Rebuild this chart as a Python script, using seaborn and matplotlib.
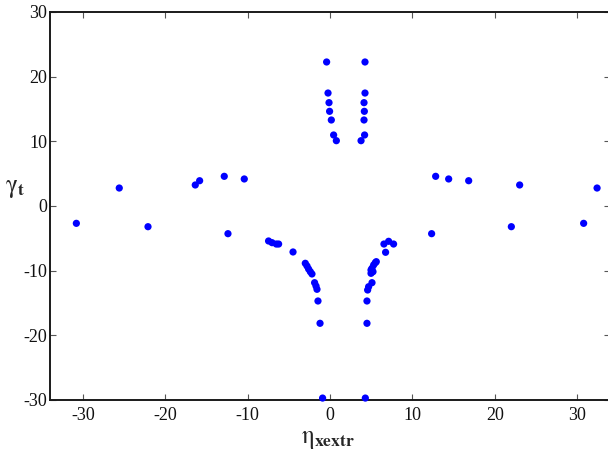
import matplotlib
matplotlib.use("Agg")
import matplotlib.pyplot as plt
import numpy as np
import pandas as pd
import seaborn as sns

# Extrema positions (eta_xextr) and the corresponding gamma_t values, grouped by branch
upper_left_eta = [-0.41, -0.24, -0.12, -0.05, 0.16, 0.44, 0.77]
upper_left_gamma = [22.27, 17.47, 15.98, 14.64, 13.30, 10.98, 10.10]

upper_right_eta = [4.25, 4.25, 4.13, 4.17, 4.13, 4.20, 3.77]
upper_right_gamma = [22.27, 17.47, 15.98, 14.64, 13.30, 10.98, 10.10]

side_left_eta = [-30.8, -25.59, -22.1, -16.36, -15.83, -12.84, -10.41, -12.39]
side_left_gamma = [-2.68, 2.78, -3.20, 3.25, 3.91, 4.59, 4.18, -4.28]

side_right_eta = [12.83, 14.41, 16.84, 23.03, 32.43, 30.8, 22.02, 12.34]
side_right_gamma = [4.59, 4.18, 3.91, 3.25, 2.78, -2.68, -3.20, -4.28]

lower_left_eta = [-7.46, -7.04, -6.52, -6.24, -4.49, -3.00, -2.79, -2.60, -2.39,
                  -2.19, -1.87, -1.70, -1.58, -1.46, -1.21]
lower_left_gamma = [-5.41, -5.67, -5.88, -5.88, -7.11, -8.86, -9.28, -9.74, -10.16,
                    -10.51, -11.86, -12.37, -12.88, -14.69, -18.14]

lower_right_eta = [6.55, 7.12, 7.72, 6.75, 5.50, 5.62, 5.30, 5.10, 4.98, 5.22, 4.98,
                   5.10, 4.69, 4.57, 4.49, 4.49]
lower_right_gamma = [-5.88, -5.46, -5.88, -7.16, -8.77, -8.61, -9.12, -9.63, -9.90,
                     -10.16, -10.41, -11.86, -12.48, -12.99, -14.69, -18.14]

bottom_eta = [-0.90, 4.29]
bottom_gamma = [-29.7, -29.7]

x_ticks = [-30, -20, -10, 0, 10, 20, 30]
y_ticks = [-30, -20, -10, 0, 10, 20, 30]

eta = (upper_left_eta + upper_right_eta + side_left_eta + side_right_eta
       + lower_left_eta + lower_right_eta + bottom_eta)
gamma = (upper_left_gamma + upper_right_gamma + side_left_gamma + side_right_gamma
         + lower_left_gamma + lower_right_gamma + bottom_gamma)
df = pd.DataFrame({"eta": eta, "gamma": gamma})

sns.set_style("ticks")
plt.rcParams["font.family"] = ["Liberation Serif", "DejaVu Serif"]
plt.rcParams["mathtext.fontset"] = "stix"
plt.rcParams["axes.unicode_minus"] = False

fig = plt.figure(figsize=(6.08, 4.63), dpi=100)
ax = fig.add_axes([50 / 608, 63 / 463, 560 / 608, 388 / 463])

sns.scatterplot(data=df, x="eta", y="gamma", ax=ax, color="#0000ff",
                s=27, linewidth=0, edgecolor="none", clip_on=False, zorder=3)

ax.set_xlim(-34, 34)
ax.set_ylim(-30, 30)
ax.set_xticks(x_ticks)
ax.set_yticks(y_ticks)
ax.set_xticklabels([str(t) for t in x_ticks])
ax.set_yticklabels([str(t) for t in y_ticks])

for side in ["left", "right", "top", "bottom"]:
    ax.spines[side].set_visible(True)
    ax.spines[side].set_linewidth(1.4)
    ax.spines[side].set_color("#1a1a1a")

ax.tick_params(axis="both", which="major", direction="in", length=4.5, width=0.8,
               color="#555555", labelsize=13, labelcolor="#111111",
               top=True, right=True)
ax.tick_params(axis="x", pad=5)
ax.tick_params(axis="y", pad=2)

ax.set_xlabel(r"$\mathrm{\eta}_{\mathbf{xextr}}$", fontsize=18)
ax.set_ylabel(r"$\mathrm{\gamma}_{\mathbf{t}}$", fontsize=18, rotation=0)
ax.xaxis.set_label_coords(0.497, -0.075)
ax.yaxis.set_label_coords(-0.063, 0.545)
ax.xaxis.label.set_va("top")
ax.yaxis.label.set_va("center")
ax.yaxis.label.set_ha("center")

fig.savefig("out.png", dpi=100, facecolor="white")
